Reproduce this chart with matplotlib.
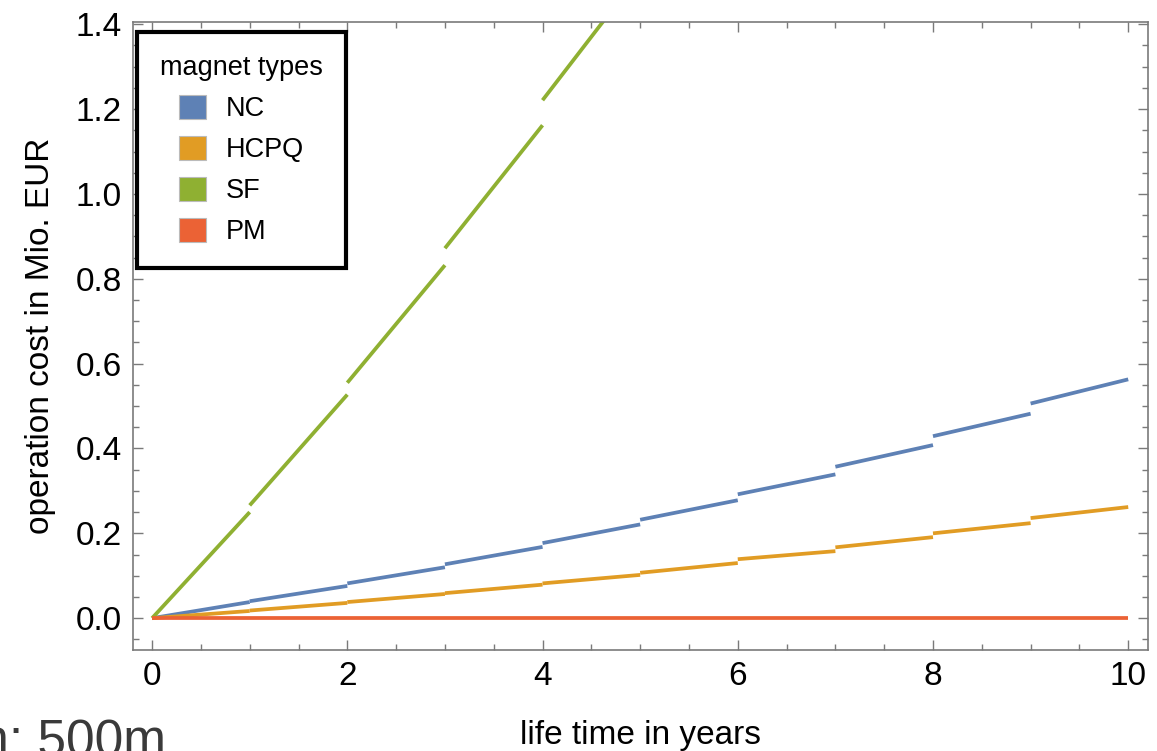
import matplotlib
matplotlib.use("Agg")
import matplotlib.pyplot as plt
from matplotlib.patches import Patch
from matplotlib.ticker import MultipleLocator

plt.rcParams['font.family'] = ['Liberation Sans', 'DejaVu Sans']

# yearly segments: value at start of year k and at its end (Mio. EUR)
years = list(range(10))
nc_start = [0.000, 0.040, 0.082, 0.127, 0.177, 0.232, 0.292, 0.357, 0.429, 0.506]
nc_end = [0.038, 0.076, 0.120, 0.168, 0.221, 0.278, 0.339, 0.408, 0.482, 0.563]
hcpq_start = [0.000, 0.018, 0.038, 0.059, 0.082, 0.107, 0.139, 0.167, 0.200, 0.236]
hcpq_end = [0.017, 0.036, 0.057, 0.079, 0.102, 0.130, 0.158, 0.191, 0.224, 0.262]
sf_start = [0.000, 0.266, 0.555, 0.872, 1.221]
sf_end = [0.250, 0.527, 0.832, 1.162, 1.520]
pm_start = [0.0] * 10
pm_end = [0.0] * 10

labels = ['NC', 'HCPQ', 'SF', 'PM']
colors = ['#5E81B5', '#E19C24', '#8FB032', '#EB6235']
series = [(nc_start, nc_end), (hcpq_start, hcpq_end), (sf_start, sf_end), (pm_start, pm_end)]

fig = plt.figure(figsize=(11.57, 7.51), dpi=100)
ax = fig.add_axes([0.115, 0.1345, 0.877, 0.836])

for (starts, ends), col in zip(series, colors):
    for k, (s, e) in enumerate(zip(starts, ends)):
        ax.plot([years[k], years[k] + 1], [s, e], color=col, lw=2.7,
                solid_capstyle='butt')

ax.set_xlim(-0.195, 10.2)
ax.set_ylim(-0.075, 1.405)
ax.xaxis.set_major_locator(MultipleLocator(2))
ax.xaxis.set_minor_locator(MultipleLocator(0.5))
ax.yaxis.set_major_locator(MultipleLocator(0.2))
ax.yaxis.set_minor_locator(MultipleLocator(0.05))
ax.xaxis.set_major_formatter(lambda v, p: f'{v:.0f}')
ax.yaxis.set_major_formatter(lambda v, p: f'{v:.1f}')

for sp in ax.spines.values():
    sp.set_color('#7a7a7a')
    sp.set_linewidth(1.2)
ax.tick_params(which='both', direction='in', top=True, right=True,
               color='#7a7a7a', labelsize=24, width=1)
ax.tick_params(which='major', length=7)
ax.tick_params(which='minor', length=4)
ax.tick_params(axis='x', which='major', pad=8)
ax.tick_params(axis='y', which='major', pad=8)

ax.set_xlabel('life time in years', fontsize=24, labelpad=20)
ax.set_ylabel('operation cost in Mio. EUR', fontsize=24, labelpad=14)

handles = [Patch(facecolor=c, edgecolor='#bbbbbb', lw=0.8, label=l) for l, c in zip(labels, colors)]
leg = ax.legend(handles=handles, title='magnet types', loc='upper left',
                bbox_to_anchor=(0.004, 0.984), fontsize=19.5, title_fontsize=19.5,
                frameon=True, fancybox=False, borderpad=0.85, labelspacing=0.5,
                handlelength=1.0, handleheight=1.0, handletextpad=0.75,
                borderaxespad=0, framealpha=1)
leg.get_frame().set_edgecolor('black')
leg.get_frame().set_linewidth(3)

fig.text(166 / 1157, -0.006, 'length: 500m', ha='right', va='baseline',
         fontsize=37, color='#3a3a3a')

fig.savefig('out.png', dpi=100)
